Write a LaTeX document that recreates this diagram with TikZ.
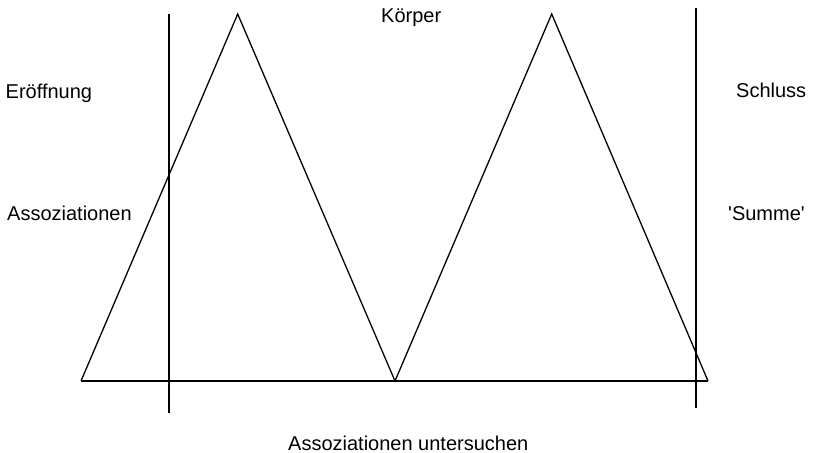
\documentclass[tikz,border=0pt]{standalone}
\usepackage{fontspec}
\newfontfamily\lsans{Liberation Sans}
\begin{document}
\begin{tikzpicture}[x=1pt,y=-1pt,
  ln/.style={line width=1.3pt,line join=miter},
  lbl/.style={anchor=base west,inner sep=0pt,font=\lsans\fontsize{20}{24}\selectfont}]
\useasboundingbox (0,0) rectangle (815,453);
% coordinates
\coordinate (L) at (81,381);
\coordinate (A1) at (237.7,14);
\coordinate (M) at (395,381);
\coordinate (A2) at (551.7,14);
\coordinate (R) at (708,381);
\coordinate (v1t) at (169,14);
\coordinate (v1b) at (169,413);
\coordinate (v2t) at (696,8);
\coordinate (v2b) at (696,408);
% shapes
\draw[ln] (L) -- (R);
\draw[ln] (L) -- (A1) -- (M) -- (A2) -- (R);
\draw[ln] (v1t) -- (v1b);
\draw[ln] (v2t) -- (v2b);
% labels
\node[lbl] (koerper) at (381,22) {Körper};
\node[lbl] (eroeff) at (5.5,98) {Eröffnung};
\node[lbl] (schluss) at (736,97) {Schluss};
\node[lbl] (assoz) at (7,220) {Assoziationen};
\node[lbl] (summe) at (728,220) {'Summe'};
\node[lbl] (unters) at (288,450) {Assoziationen untersuchen};
\end{tikzpicture}
\end{document}
